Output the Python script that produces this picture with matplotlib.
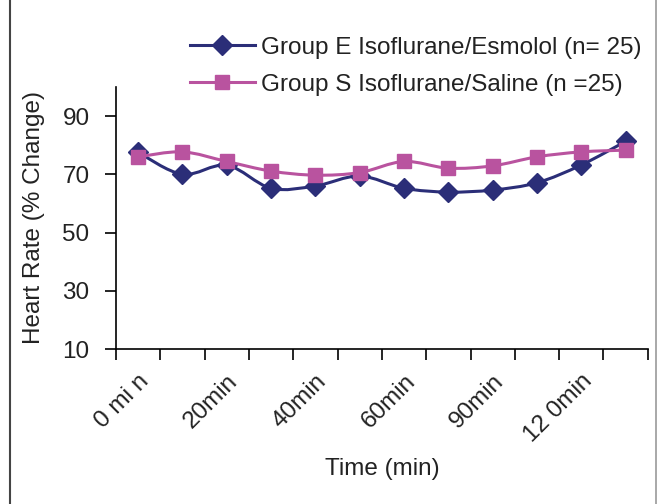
import numpy as np
import matplotlib
matplotlib.use("Agg")
import matplotlib.pyplot as plt
from matplotlib.path import Path
from matplotlib.patches import PathPatch
from matplotlib.lines import Line2D

plt.rcParams['font.family'] = ['Liberation Sans', 'DejaVu Sans']

# data
time_labels = ["0 mi n", "20min", "40min", "60min", "90min", "12 0min"]
label_slots = [0, 2, 4, 6, 8, 10]
group_e = [77.5, 70.0, 73.1, 65.2, 66.0, 69.4, 65.2, 63.9, 64.6, 67.1, 73.2, 81.3]
group_s = [76.0, 77.7, 74.4, 71.1, 69.7, 70.6, 74.4, 72.1, 72.9, 76.0, 77.7, 78.3]
label_e = "Group E Isoflurane/Esmolol (n= 25)"
label_s = "Group S Isoflurane/Saline (n =25)"

NAVY = "#2b2e78"
PINK = "#b9539f"
TXT = "#222222"
FS = 17.5


def smooth_path(xs, ys, k=1 / 6):
    # excel-style smoothed line as cubic bezier segments
    xs = np.asarray(xs, float)
    ys = np.asarray(ys, float)
    n = len(xs)
    verts = [(xs[0], ys[0])]
    codes = [Path.MOVETO]
    for i in range(n - 1):
        p0 = i - 1 if i > 0 else i
        p3 = i + 2 if i + 2 < n else i + 1
        c1 = (xs[i] + (xs[i + 1] - xs[p0]) * k, ys[i] + (ys[i + 1] - ys[p0]) * k)
        c2 = (xs[i + 1] - (xs[p3] - xs[i]) * k, ys[i + 1] - (ys[p3] - ys[i]) * k)
        verts += [c1, c2, (xs[i + 1], ys[i + 1])]
        codes += [Path.CURVE4] * 3
    return Path(verts, codes)


fig = plt.figure(figsize=(6.59, 5.04), dpi=100)
ax = fig.add_axes([0.176, 0.3075, 0.807, 0.52])

x = np.arange(len(group_e))
ax.add_patch(PathPatch(smooth_path(x, group_e), fill=False, edgecolor=NAVY, lw=2.2, zorder=2))
ax.plot(x, group_e, ls='none', marker='D', ms=10, color=NAVY, zorder=3)
ax.add_patch(PathPatch(smooth_path(x, group_s), fill=False, edgecolor=PINK, lw=2.2, zorder=4))
ax.plot(x, group_s, ls='none', marker='s', ms=10.5, color=PINK, zorder=5)

ax.set_xlim(-0.5, len(group_e) - 0.5)
ax.set_ylim(10, 100)
ax.set_yticks([10, 30, 50, 70, 90])
ax.set_xticks(np.arange(-0.5, len(group_e), 1))
ax.set_xticklabels([])
ax.set_xticks(label_slots, minor=True)
ax.set_xticklabels(time_labels, minor=True, rotation=45, ha='right', va='top',
                   rotation_mode='anchor')
ax.tick_params(axis='x', which='minor', length=0, pad=15, labelsize=FS, colors=TXT)
ax.tick_params(axis='x', which='major', length=8, width=1.2)
ax.tick_params(axis='y', length=8, width=1.2, labelsize=FS, labelcolor=TXT, pad=11)

for side in ['top', 'right']:
    ax.spines[side].set_visible(False)
for side in ['left', 'bottom']:
    ax.spines[side].set_linewidth(1.2)

ax.set_ylabel("Heart Rate (% Change)", fontsize=FS, color=TXT)
ax.yaxis.set_label_coords(-0.133, 0.5)
ax.set_xlabel("Time (min)", fontsize=FS, color=TXT)
ax.xaxis.set_label_coords(0.5, -0.415)

handles = [
    Line2D([], [], color=NAVY, lw=2.2, marker='D', ms=10),
    Line2D([], [], color=PINK, lw=2.2, marker='s', ms=10.5),
]
fig.legend(handles, [label_e, label_s], loc='upper right', bbox_to_anchor=(1.007, 0.971),
           frameon=False, fontsize=FS, handlelength=2.7, handletextpad=0.25,
           labelspacing=0.63, labelcolor=TXT)

# thin frame lines on the sides of the figure
fig.add_artist(Line2D([10 / 659, 10 / 659], [0, 1], color='#444444', lw=1.5))
fig.add_artist(Line2D([656 / 659, 656 / 659], [0, 1], color='#999999', lw=1.2))

fig.savefig("out.png", dpi=100)
